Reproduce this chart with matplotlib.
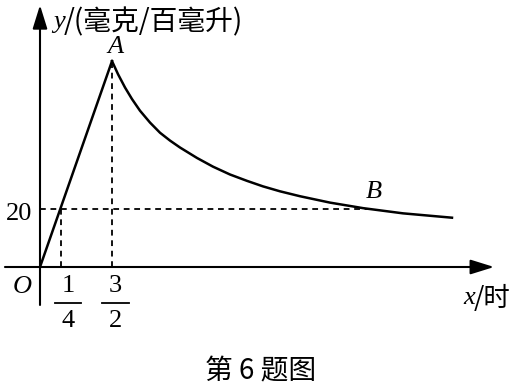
import matplotlib
matplotlib.use('Agg')
import matplotlib.pyplot as plt

plt.rcParams['font.family'] = ['Noto Sans CJK SC', 'DejaVu Sans']

# schematic units (the figure is not drawn to scale)
rise_x = [0, 1.5]
rise_y = [0, 71]
decay_x = [1.5, 1.625, 1.771, 1.917, 2.083, 2.292, 2.5, 2.708, 2.917, 3.271, 3.604,
           3.958, 4.313, 4.646, 5.0, 5.417, 6.042, 6.729, 7.563, 8.583]
decay_y = [71, 66.5, 61.9, 57.9, 53.9, 49.8, 46.3, 43.6, 41.2, 37.6, 34.6,
           31.9, 29.7, 27.8, 26.1, 24.4, 22.2, 20.3, 18.5, 17.0]
level = 20
x_quarter = 0.44     # where x = 1/4 sits on the drawn axis
x_peak = 1.5         # where x = 3/2 sits
x_b = 6.88
fractions = [('1', '4'), ('3', '2')]
frac_pos = [0.583, 1.573]

fig = plt.figure(figsize=(5.14, 3.87), dpi=100)
ax = fig.add_axes([0, 0, 1, 1])
ax.set_xlim(-40 / 48, 474 / 48)
ax.set_ylim(-120 / 2.9, 267 / 2.9)
ax.axis('off')

# axes with arrows
arrow = dict(arrowstyle='-|>,head_length=0.9,head_width=0.28', lw=1.5, color='black',
             mutation_scale=16, shrinkA=0, shrinkB=0)
ax.annotate('', xy=(9.46, 0), xytext=(-0.73, 0), arrowprops=arrow)
ax.annotate('', xy=(0, 90.3), xytext=(0, -13.1), arrowprops=arrow)

# curve
ax.plot(rise_x, rise_y, color='black', lw=1.8, solid_joinstyle='miter')
ax.plot(decay_x, decay_y, color='black', lw=1.8, solid_joinstyle='round')

# dashed guides
dash = dict(color='black', lw=1.3, linestyle=(0, (3.2, 2.6)))
ax.plot([0, x_b], [level, level], **dash)
ax.plot([x_quarter, x_quarter], [0, level], **dash)
ax.plot([x_peak, x_peak], [0, rise_y[1]], **dash)

serif = dict(family='Liberation Serif', fontsize=19, color='black')
ax.text(1.5625, 75.9, 'A', style='italic', ha='center', va='center', **serif)
ax.text(6.96, 25.9, 'B', style='italic', ha='center', va='center', **serif)
ax.text(-0.375, -6.9, 'O', style='italic', ha='center', va='center', **serif)
ax.text(-0.167, 18.3, '20', ha='right', va='center', **serif)

# fraction tick labels
for xp, (num, den) in zip(frac_pos, fractions):
    ax.text(xp, -6.55, num, ha='center', va='center', **serif)
    ax.plot([xp - 0.28, xp + 0.28], [-12.3, -12.3], color='black', lw=1.3)
    ax.text(xp, -18.6, den, ha='center', va='center', **serif)

# axis labels
ax.text(0.27, 84.5, 'y', style='italic', ha='left', va='center', **serif)
ax.text(0.49, 84.5, '/(毫克/百毫升)', ha='left', va='center', fontsize=20)
ax.text(8.81, -10.7, 'x', style='italic', ha='left', va='center', **serif)
ax.text(9.04, -10.7, '/时', ha='left', va='center', fontsize=19)

# caption
ax.text(4.6, -35.9, '第 6 题图', ha='center', va='center', fontsize=20)

fig.savefig('out.png', dpi=100)
